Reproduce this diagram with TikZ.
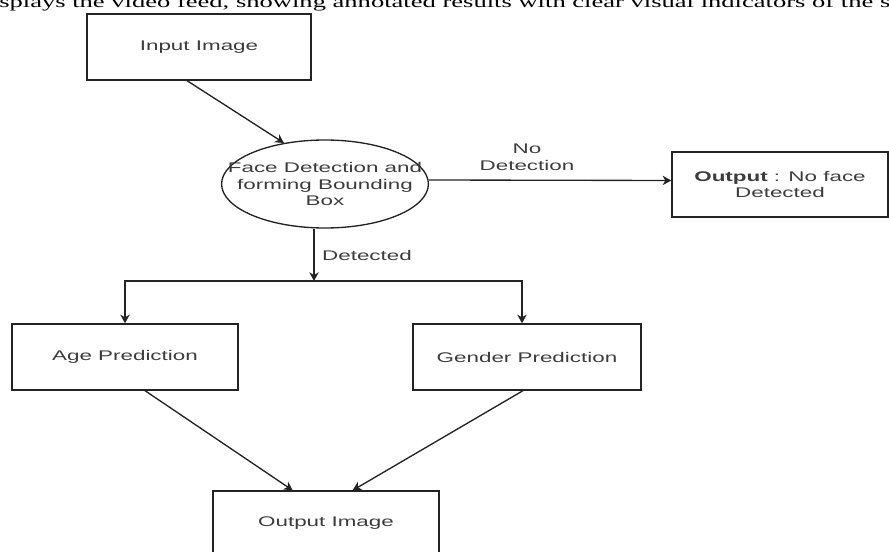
\documentclass[tikz,border=0pt]{standalone}
\usepackage{fontspec}
\usetikzlibrary{arrows.meta,shapes.geometric}
\newfontfamily\diafont[FakeStretch=1.6]{Liberation Sans}
\newfontfamily\docfont[FakeStretch=1.6]{Liberation Serif}
\definecolor{boxline}{RGB}{35,35,35}
\definecolor{boxtext}{RGB}{60,60,60}

\begin{document}
\begin{tikzpicture}[
  x=0.75pt, y=-0.75pt,
  box/.style={draw=boxline, line width=1pt, rectangle, inner sep=0pt,
    text=boxtext, font=\diafont\fontsize{10.5}{12.4}\selectfont, align=center},
  oval/.style={draw=boxline, line width=1pt, ellipse, inner xsep=-18pt, inner ysep=0pt,
    minimum width=151.5pt, minimum height=66pt,
    text=boxtext, font=\diafont\fontsize{10.5}{12.4}\selectfont, align=center},
  lbl/.style={text=boxtext, font=\diafont\fontsize{10.5}{12.4}\selectfont, align=center, inner sep=0pt},
  arr/.style={draw=boxline, line width=1pt, -{Stealth[length=6.5pt,width=7pt,inset=2pt]}},
]
\useasboundingbox (0,0) rectangle (889,552);
\clip (0,0) rectangle (889,552);

% ===== Cut line of the page text above =====
\node[anchor=base west, inner sep=0pt, font=\docfont\fontsize{12.45}{14}\selectfont] (doctext) at (-1,7.5)
  {splays the video feed, showing annotated results with clear visual indicators of the s};

% ===== Nodes =====
\node[box, minimum width=168pt, minimum height=49.5pt] (inp) at (199,47) {Input Image};
\node[oval] (fd) at (325,184) {Face Detection and\\forming Bounding\\Box};
\node[box, minimum width=162pt, minimum height=48.75pt] (nof) at (780,184.5) {\textbf{Output} : No face\\Detected};
\node[box, minimum width=169.5pt, minimum height=49.5pt] (age) at (125,357) {Age Prediction};
\node[box, minimum width=171pt, minimum height=49.5pt] (gen) at (527,357) {Gender Prediction};
\node[box, minimum width=169.5pt, minimum height=48pt] (out) at (326,523) {Output Image};

% ===== Labels =====
\node[lbl] (nolbl) at (527,157.5) {No\\Detection};
\node[lbl] (detlbl) at (367,255) {Detected};

% ===== Connectors =====
\coordinate (split) at (314,281);
\draw[arr] ([xshift=-9pt]inp.south) -- (fd.135);
\draw[arr] ([yshift=3pt]fd.east) -- ([yshift=3pt]nof.west);
\draw[arr] (fd.south -| split) -- (split);
\draw[arr] (split) -| (age.north);
\draw[arr] (split) -| ([xshift=-3.75pt]gen.north);
\draw[arr] ([xshift=15pt]age.south) -- ([xshift=-25pt]out.north);
\draw[arr] ([xshift=-3pt]gen.south) -- ([xshift=20pt]out.north);
\end{tikzpicture}
\end{document}
